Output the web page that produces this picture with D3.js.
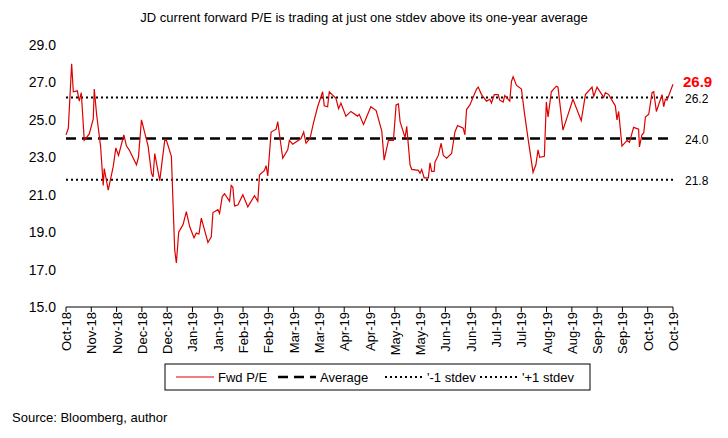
<!DOCTYPE html>
<html><head><meta charset="utf-8">
<script src="https://cdn.jsdelivr.net/npm/d3@7"></script>
<style>body{margin:0;background:#fff}text{font-family:Arial,"Liberation Sans",sans-serif}</style>
</head><body><svg id="c" width="728" height="438"></svg>
<script>
// day offset from start, forward P/E
var days = [0,1.4,3.4,4.4,6.8,8,9.2,11,14,16.4,17,18.4,20.8,22.4,23,25.4,28.4,30,31.6,34.8,36.4,38,42.4,43.6,45.4,49.4,51.4,52.4,53.4,56.4,59.4,60.4,63.4,65.4,66.4,67.8,70.4,72.4,74.4,77,78.4,80,81.4,85.4,87.4,88.4,91.4,92.4,94,95.4,98.4,99.4,100.4,101.4,103.4,106.4,109.4,113.4,115.4,116.4,119.4,120.4,121.4,123.4,126.4,127.4,130.4,133.4,134.4,136.4,141.4,143,144.4,146.8,148.8,151.4,154.4,155.4,157.4,158.4,162.4,164,165.4,168.4,171.4,175.4,176.4,179,183.4,186.6,190,191.4,194,197,198.6,200,201,204,205,207,208,212,213,214,215.5,218,219,220,221.5,222,224,225.7,227,229,232,234,235.6,239,240,241,243,247,248,250,253,255,256,257.7,260,261,263,264,267,268,269,271,274,276,278,281,282.7,284,285,287.8,289,290,292,295,296,299,305,310,312.5,316.5,317.5,319.5,323.5,324.5,326.5,330.5,331.5,332.5,334.5,337.5,339,341.5,344.5,345,346.5,347.6,348.6,350.6,352.6,353.6,355.2,358.6,359.6,360.6,361.6,365.2];
var pe = [24.2,24.55,28.0,26.5,26.55,26.0,26.45,23.9,24.25,25.05,26.65,25.3,23.6,21.5,22.4,21.25,22.5,23.5,23.1,24.2,23.6,23.4,22.6,23.0,25.0,23.6,22.15,21.95,23.2,21.75,23.9,23.9,23.05,18.05,17.35,19.0,19.4,20.1,19.3,18.7,18.95,18.9,19.75,18.45,18.75,20.05,20.2,20.0,20.9,21.05,20.65,21.5,21.4,20.4,20.45,21.0,20.35,20.95,20.65,22.05,22.3,22.55,22.0,24.35,24.5,24.9,22.95,23.4,23.9,23.7,24.0,24.35,23.75,24.0,24.8,25.7,26.5,25.75,25.7,26.5,26.15,25.6,25.9,25.2,25.45,25.2,25.3,24.75,25.7,25.5,24.4,22.85,23.9,23.9,25.8,25.85,24.9,24.05,24.65,22.6,22.35,22.3,22.15,22.35,21.9,21.9,22.7,22.25,22.25,22.75,23.1,23.75,23.1,22.95,23.2,24.35,24.7,24.55,24.2,25.55,25.8,26.65,26.75,26.35,26.0,26.1,25.9,26.35,26.35,26.05,25.95,26.3,26.0,27.05,27.3,26.85,26.65,25.25,24.0,22.2,22.6,23.4,23.0,23.05,25.95,25.15,26.5,26.8,26.75,24.45,26.1,24.95,26.35,26.75,26.25,26.75,26.2,26.45,26.35,25.75,25.0,25.45,23.6,23.9,23.8,24.6,24.5,23.55,24.2,24.3,25.15,25.3,26.45,26.5,25.45,26.35,25.7,26.1,26.05,26.9];
var avg = 24.0, lo = 21.8, hi = 26.2, last = 26.9;
var tickLabels = ["Oct-18","Nov-18","Nov-18","Dec-18","Dec-18","Jan-19","Jan-19","Feb-19","Feb-19","Mar-19","Mar-19","Apr-19","Apr-19","May-19","May-19","Jun-19","Jun-19","Jul-19","Jul-19","Aug-19","Aug-19","Sep-19","Sep-19","Oct-19","Oct-19"];
var yTicks = [15,17,19,21,23,25,27,29];

var svg = d3.select('#c');
var x = d3.scaleLinear().domain([0, 365.2]).range([66, 673]);
var y = d3.scaleLinear().domain([15, 29]).range([307, 45]);

svg.append('text').attr('x', 364).attr('y', 22).attr('text-anchor', 'middle')
  .style('font-size', '13px').text('JD current forward P/E is trading at just one stdev above its one-year average');

// y labels
svg.selectAll('text.yl').data(yTicks).enter().append('text').attr('class', 'yl')
  .attr('x', 56).attr('y', function(d) { return y(d) + 5; }).attr('text-anchor', 'end')
  .style('font-size', '14px').text(function(d) { return d.toFixed(1); });

// x axis
svg.append('line').attr('x1', 66).attr('x2', 673).attr('y1', 307).attr('y2', 307).attr('stroke', '#000');
var step = 365.2 / (tickLabels.length - 1);
tickLabels.forEach(function(t, i) {
  var px = x(i * step);
  svg.append('line').attr('x1', px).attr('x2', px).attr('y1', 307).attr('y2', 312).attr('stroke', '#000');
  svg.append('text').attr('transform', 'translate(' + (px + 5) + ',312) rotate(-90)')
    .attr('text-anchor', 'end').style('font-size', '13px').text(t);
});

// reference lines
function hline(v, dash, w) {
  svg.append('line').attr('x1', 66).attr('x2', 673).attr('y1', y(v)).attr('y2', y(v))
    .attr('stroke', '#000').attr('stroke-width', w).attr('stroke-dasharray', dash);
}
hline(lo, '2,3', 2);
hline(hi, '2,3', 2);
hline(avg, '10,6', 2.5);

var line = d3.line().x(function(d, i) { return x(days[i]); }).y(function(d) { return y(d); });
svg.append('path').datum(pe).attr('d', line).attr('fill', 'none').attr('stroke', '#d00').attr('stroke-width', 1.2);

// right labels
svg.append('text').attr('x', 683).attr('y', y(last) + 3).attr('fill', '#f00').style('font-weight', 'bold')
  .style('font-size', '15px').text(last.toFixed(1));
[[hi, 6], [avg, 5], [lo, 5]].forEach(function(a) {
  svg.append('text').attr('x', 685).attr('y', y(a[0]) + a[1]).style('font-size', '12px').text(a[0].toFixed(1));
});

// legend
svg.append('rect').attr('x', 165).attr('y', 364).attr('width', 425).attr('height', 26)
  .attr('fill', 'none').attr('stroke', '#000');
var leg = [
  {t: 'Fwd P/E', x: 176, c: '#d00', d: null, w: 1.2},
  {t: 'Average', x: 278, c: '#000', d: '10,6', w: 2.5},
  {t: "'-1 stdev", x: 385, c: '#000', d: '2,3', w: 2},
  {t: "'+1 stdev", x: 480, c: '#000', d: '2,3', w: 2}
];
leg.forEach(function(l) {
  svg.append('line').attr('x1', l.x).attr('x2', l.x + 38).attr('y1', 377).attr('y2', 377)
    .attr('stroke', l.c).attr('stroke-width', l.w).attr('stroke-dasharray', l.d);
  svg.append('text').attr('x', l.x + 42).attr('y', 382).style('font-size', '13px').text(l.t);
});

svg.append('text').attr('x', 12).attr('y', 422).style('font-size', '13px').text('Source: Bloomberg, author');
</script></body></html>
